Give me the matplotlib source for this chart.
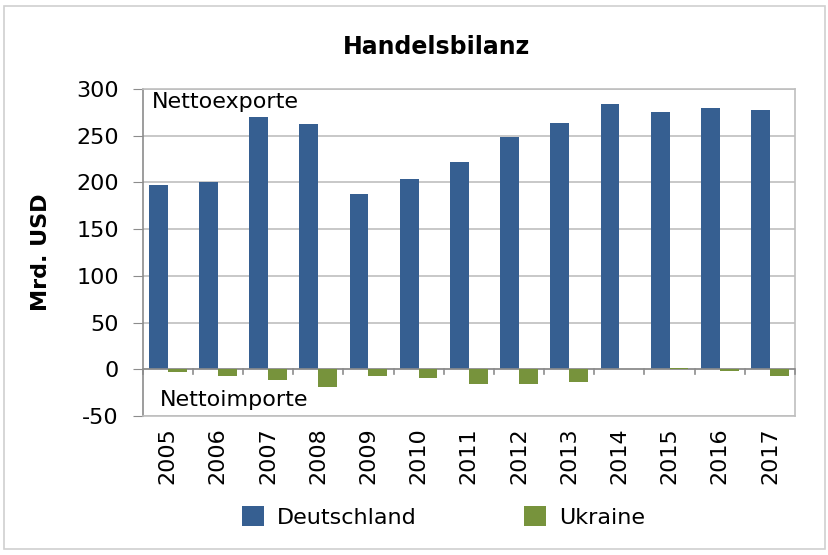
import numpy as np
import matplotlib.pyplot as plt
from matplotlib.patches import Rectangle

# data
years = ["2005", "2006", "2007", "2008", "2009", "2010", "2011",
         "2012", "2013", "2014", "2015", "2016", "2017"]
deutschland = [197, 200, 270, 262, 188, 204, 222, 249, 263, 284, 275, 279, 277]
ukraine = [-2.5, -6.5, -11.5, -18.5, -6.5, -9, -15, -16, -13, 0, 2, -1.5, -6.5]

blue = "#365F91"
green = "#77933C"
grid_col = "#BFBFBF"

plt.rcParams["font.family"] = ["DejaVu Sans"]
plt.rcParams["axes.unicode_minus"] = False

fig = plt.figure(figsize=(8.29, 5.55), dpi=100)
ax = fig.add_axes([0.172, 0.250, 0.787, 0.590])

x = np.arange(len(years))
w = 0.375
ax.bar(x - w / 2, deutschland, w, color=blue, label="Deutschland", zorder=3)
ax.bar(x + w / 2, ukraine, w, color=green, label="Ukraine", zorder=5)

ax.set_xlim(-0.5, len(years) - 0.5)
ax.set_ylim(-50, 300)
ax.set_yticks(range(-50, 301, 50))
ax.tick_params(axis="y", labelsize=16, length=7, color="#8C8C8C", pad=10)
ax.yaxis.grid(True, color=grid_col, linewidth=1.2, zorder=0)

# category labels under the plot area
ax.set_xticks(x)
ax.set_xticklabels(years, rotation=90, fontsize=16)
ax.tick_params(axis="x", length=0, pad=8)

# x-axis line with boundary ticks at zero
ax.axhline(0, color="#8C8C8C", linewidth=1.2, zorder=4)
for b in np.arange(-0.5, len(years) + 0.5, 1):
    ax.plot([b, b], [0, -4.5], color="#8C8C8C", linewidth=1.2, zorder=4,
            clip_on=False)

for s in ["top", "right", "bottom"]:
    ax.spines[s].set_color(grid_col)
    ax.spines[s].set_linewidth(1.2)
ax.spines["left"].set_color("#8C8C8C")
ax.spines["left"].set_linewidth(1.2)

ax.text(0.015, 0.99, "Nettoexporte", transform=ax.transAxes, fontsize=16,
        va="top", ha="left")
ax.text(0.026, 0.02, "Nettoimporte", transform=ax.transAxes, fontsize=16,
        va="bottom", ha="left")

ax.set_ylabel("Mrd. USD", fontsize=16, fontweight="bold")
ax.yaxis.set_label_coords(-0.14, 0.5)
fig.text(0.527, 0.915, "Handelsbilanz", fontsize=17, fontweight="bold",
         ha="center", va="center")

fig.legend(loc="center", bbox_to_anchor=(0.535, 0.068), ncol=2, frameon=False,
           fontsize=16, handlelength=1.0, handleheight=1.0, columnspacing=4.8,
           handletextpad=0.6)

# light frame around the whole chart
fig.patches.append(Rectangle((0.005, 0.01), 0.99, 0.98, transform=fig.transFigure,
                             fill=False, edgecolor="#D0D0D0", linewidth=1.2))

fig.savefig("out.png", dpi=100)
